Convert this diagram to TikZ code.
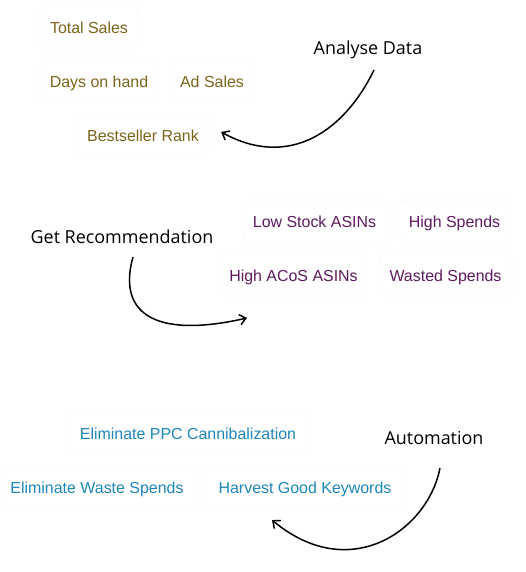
\documentclass[tikz,border=0pt]{standalone}
\usepackage{fontspec}
\setmainfont{Liberation Sans}
\newfontfamily\handfont{Open Sans}
\usetikzlibrary{arrows.meta}
\definecolor{salesgold}{HTML}{7A6418}
\definecolor{recpurple}{HTML}{5E1B5E}
\definecolor{autoblue}{HTML}{1E86B8}
\tikzset{
  chip/.style={draw=black!4,fill=white,rounded corners=6bp,minimum height=42bp,text height=15bp,text depth=2.5bp,font=\fontsize{16}{18}\selectfont},
  note/.style={font=\handfont\fontsize{18}{22}\selectfont},
  loop arrow/.style={line width=1.5bp,-{Straight Barb[angle=80:8bp]}}
}
\begin{document}
\begin{tikzpicture}[x=1bp,y=-1bp]
    \useasboundingbox (0,0) rectangle (526,572);
    \node[chip,text=salesgold,minimum width=98bp] (total) at (89,27) {Total Sales};
    \node[chip,text=salesgold,minimum width=118bp] (days) at (99,81) {Days on hand};
    \node[chip,text=salesgold,minimum width=82bp] (adsales) at (212,81) {Ad Sales};
    \node[chip,text=salesgold,minimum width=130bp] (rank) at (143,135) {Bestseller Rank};
    \node[chip,text=recpurple,minimum width=143bp] (lowstock) at (314.5,221) {Low Stock ASINs};
    \node[chip,text=recpurple,minimum width=111bp] (highspend) at (454.5,221) {High Spends};
    \node[chip,text=recpurple,minimum width=145bp] (highacos) at (293.5,275) {High ACoS ASINs};
    \node[chip,text=recpurple,minimum width=133bp] (wasted) at (445.5,275) {Wasted Spends};
    \node[chip,text=autoblue,minimum width=236bp] (cannibal) at (188,433) {Eliminate PPC Cannibalization};
    \node[chip,text=autoblue,minimum width=194bp] (waste) at (97,487) {Eliminate Waste Spends};
    \node[chip,text=autoblue,minimum width=196bp] (harvest) at (305,487) {Harvest Good Keywords};
    \node[note] (analyse) at (368,50) {Analyse Data};
    \node[note] (recommend) at (122,237) {Get Recommendation};
    \node[note] (automation) at (434,438) {Automation};
    \draw[loop arrow] ([xshift=6bp,yshift=-20bp]analyse.center) .. controls (345,130) and (290,170) .. ([xshift=13bp,yshift=3bp]rank.east);
    \draw[loop arrow] ([xshift=11bp,yshift=-20bp]recommend.center) .. controls (118,310) and (150,340) .. ([xshift=-46.5bp,yshift=-43bp]highacos.center);
    \draw[loop arrow] ([xshift=6bp,yshift=-30bp]automation.center) .. controls (428,530) and (350,585) .. ([xshift=-33bp,yshift=-33bp]harvest.center);
\end{tikzpicture}
\end{document}
